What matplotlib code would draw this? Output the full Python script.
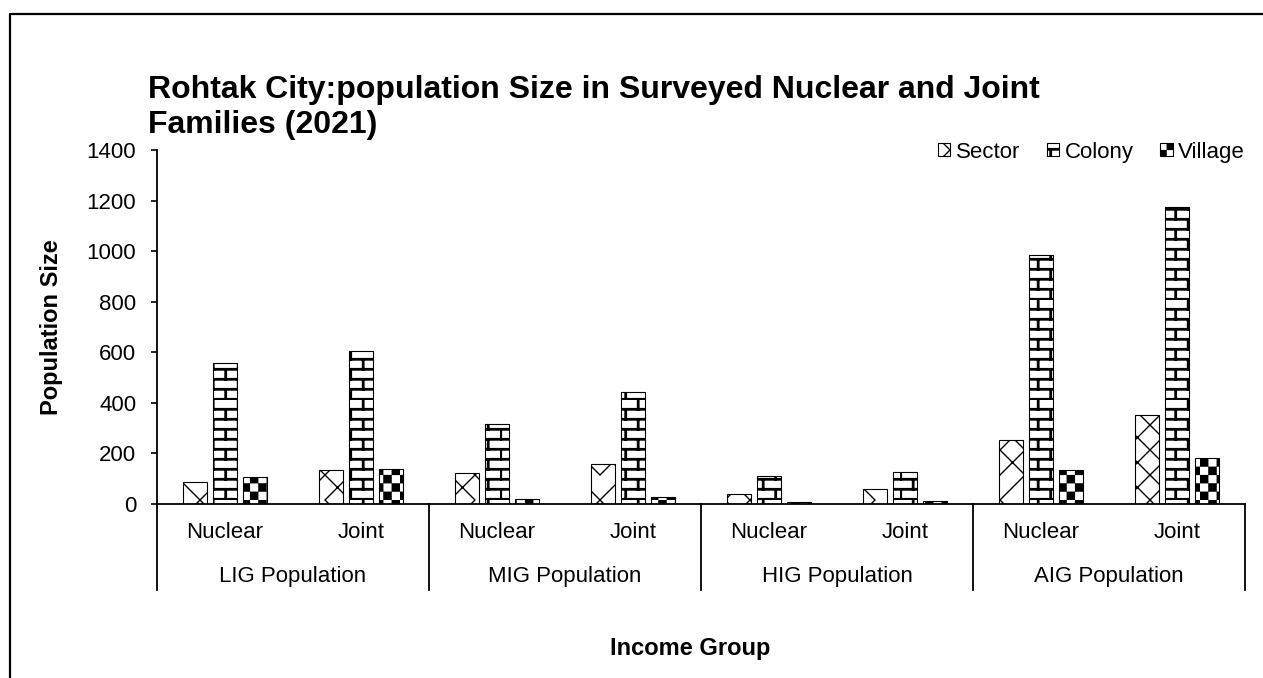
import numpy as np
import matplotlib
matplotlib.use("Agg")
import matplotlib.pyplot as plt
import matplotlib.hatch as mhatch
from matplotlib.path import Path
from matplotlib.lines import Line2D

# ---- data ----
groups = ["LIG Population", "MIG Population", "HIG Population", "AIG Population"]
family_types = ["Nuclear", "Joint"]
sector = [88, 133, 122, 160, 40, 58, 252, 352]
colony = [556, 607, 315, 442, 112, 125, 983, 1175]
village = [107, 140, 19, 28, 6, 12, 134, 182]
series_names = ["Sector", "Colony", "Village"]


# ---- custom hatches that look like the Excel fill patterns ----
class BrickHatch(mhatch.HatchPatternBase):
    # horizontal brick, drawn as thin filled rectangles
    def __init__(self, hatch, density):
        self.on = 'B' in hatch
        self.rows, self.cols, self.t = 10, 4, 0.014
        self.num_vertices = (self.rows + self.rows * self.cols) * 5 if self.on else 0

    def set_vertices_and_codes(self, vertices, codes):
        h, w, t = 1.0 / self.rows, 1.0 / self.cols, self.t
        rects = []
        for k in range(self.rows):
            y = k * h
            rects.append((0, y, 1, y + t))
            for j in range(self.cols):
                x = (j + 0.5 * (k % 2)) * w
                rects.append((x, y, x + t, y + h))
        for i, (x0, y0, x1, y1) in enumerate(rects):
            vertices[i * 5:i * 5 + 5] = [(x0, y0), (x1, y0), (x1, y1), (x0, y1), (x0, y0)]
            codes[i * 5:i * 5 + 5] = [Path.MOVETO, Path.LINETO, Path.LINETO,
                                      Path.LINETO, Path.CLOSEPOLY]


class CheckerHatch(mhatch.HatchPatternBase):
    def __init__(self, hatch, density):
        self.on = 'C' in hatch
        self.n = 12
        self.num_vertices = (self.n * self.n // 2) * 5 if self.on else 0

    def set_vertices_and_codes(self, vertices, codes):
        s = 1.0 / self.n
        e = 0.006
        i = 0
        for r in range(self.n):
            for c in range(self.n):
                if (r + c) % 2:
                    continue
                x0, y0, x1, y1 = c * s + e, r * s + e, (c + 1) * s - e, (r + 1) * s - e
                vertices[i:i + 5] = [(x0, y0), (x1, y0), (x1, y1), (x0, y1), (x0, y0)]
                codes[i:i + 5] = [Path.MOVETO, Path.LINETO, Path.LINETO,
                                  Path.LINETO, Path.CLOSEPOLY]
                i += 5


class TrellisHatch(mhatch.HatchPatternBase):
    # sparse diagonal lattice
    def __init__(self, hatch, density):
        self.on = 'Z' in hatch
        self.n = 4
        self.num_vertices = (self.n + 1) * 4 if self.on else 0

    def set_vertices_and_codes(self, vertices, codes):
        steps = np.linspace(-0.5, 0.5, self.n + 1)
        i = 0
        for s in steps:
            vertices[i:i + 2] = [(0 + s, 0), (1 + s, 1)]
            vertices[i + 2:i + 4] = [(0 + s, 1), (1 + s, 0)]
            codes[i:i + 4] = [Path.MOVETO, Path.LINETO, Path.MOVETO, Path.LINETO]
            i += 4


mhatch._hatch_types.extend([BrickHatch, CheckerHatch, TrellisHatch])
mhatch._validate_hatch_pattern = lambda hatch: None

plt.rcParams['font.family'] = ['Liberation Sans', 'DejaVu Sans']
plt.rcParams['hatch.linewidth'] = 1.0
plt.rcParams['hatch.color'] = 'black'

fig = plt.figure(figsize=(12.63, 6.78), dpi=100)
ax = fig.add_axes([157 / 1263, 1 - 504 / 678, (1245 - 157) / 1263, (504 - 150) / 678])

x = np.arange(len(sector))
bw = 0.176
off = 0.22
edge = dict(edgecolor='black', linewidth=0.8, facecolor='white')
ax.bar(x - off, sector, bw, hatch='Z', label=series_names[0], **edge)
ax.bar(x, colony, bw, hatch='B', label=series_names[1], **edge)
ax.bar(x + off, village, bw, hatch='C', label=series_names[2], **edge)

ax.set_xlim(-0.5, len(sector) - 0.5)
ax.set_ylim(0, 1400)
ax.set_yticks(np.arange(0, 1401, 200))
ax.tick_params(axis='y', labelsize=16, length=4, width=1.2, pad=11, direction='out')
ax.set_xticks([])
for s in ['top', 'right']:
    ax.spines[s].set_visible(False)
ax.spines['left'].set_linewidth(1.3)
ax.spines['bottom'].set_linewidth(1.3)

# two-level category axis
trans = ax.get_xaxis_transform()
for i in range(len(sector)):
    ax.text(x[i], -0.08, family_types[i % 2], transform=trans,
            ha='center', va='center', fontsize=16)
for g, name in enumerate(groups):
    ax.text(2 * g + 0.5, -0.205, name, transform=trans,
            ha='center', va='center', fontsize=16)
for b in np.arange(-0.5, len(sector), 2):
    ax.plot([b, b], [0, -0.243], transform=trans, color='black',
            linewidth=1.3, clip_on=False)

ax.set_ylabel('Population Size', fontsize=17, fontweight='bold')
ax.yaxis.set_label_coords(-0.086, 0.5)
fig.text(690 / 1263, 1 - 648 / 678, 'Income Group', ha='center', va='center',
         fontsize=17, fontweight='bold')

fig.text(148 / 1263, 1 - 75 / 678,
         'Rohtak City:population Size in Surveyed Nuclear and Joint\nFamilies (2021)',
         ha='left', va='top', fontsize=23, fontweight='bold', linespacing=1.2)

ax.legend(loc='center right', bbox_to_anchor=(1.0, 0.994), ncol=3, frameon=False,
          fontsize=16, handlelength=0.55, handleheight=0.55, handletextpad=0.25,
          columnspacing=1.2, borderaxespad=0.0, borderpad=0.0)

# outer chart border (top and left visible in the reference)
fig.add_artist(Line2D([9.5 / 1263, 9.5 / 1263, 1.0], [0.0, 1 - 13.5 / 678, 1 - 13.5 / 678],
                      transform=fig.transFigure, color='black', linewidth=1.6))

fig.savefig('out.png', dpi=100)
